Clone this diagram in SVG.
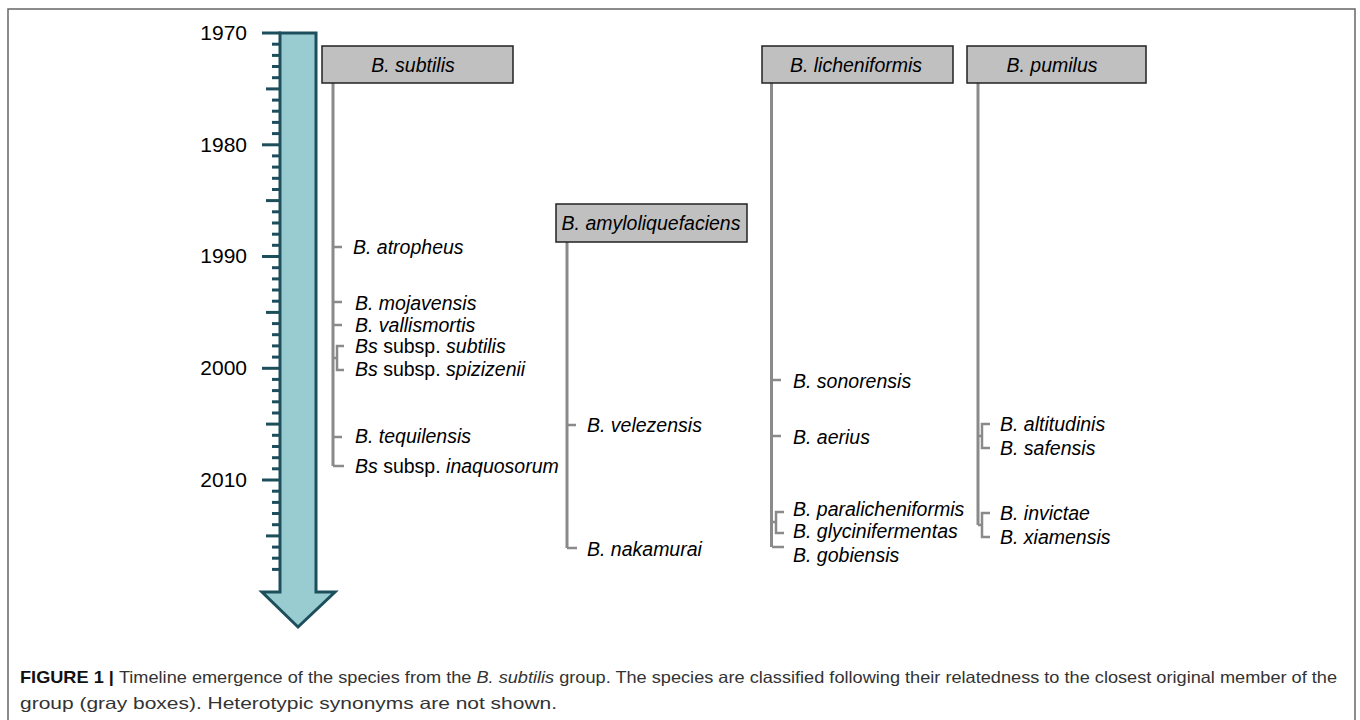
<svg xmlns="http://www.w3.org/2000/svg" width="1360" height="720" viewBox="0 0 1360 720">
<style>
.yr{font-family:"Liberation Sans",Arial,sans-serif;font-size:21px;fill:#000;text-anchor:end}
.sp{font-family:"Liberation Sans",Arial,sans-serif;font-size:19.5px;font-style:italic;fill:#000}
.bx{fill:#c0c0c0;stroke:#222;stroke-width:1.5}
.bt{font-family:"Liberation Sans",Arial,sans-serif;font-size:19.5px;font-style:italic;fill:#000;text-anchor:middle}
.ln{stroke:#8a8a8a;stroke-width:3;fill:none}
.tk{stroke:#8a8a8a;stroke-width:2.5;fill:none}
.ax{stroke:#1d4e5b;stroke-width:3}
.cap{font-family:"Liberation Sans",Arial,sans-serif;font-size:16.5px;fill:#333}
</style>
<rect x="8" y="9" width="1347" height="720" fill="#fff" stroke="#666" stroke-width="1.5"/>

<g id="timeline">
  <g class="ax">
    <line x1="262" y1="33" x2="281" y2="33"/>
    <line x1="272" y1="44.2" x2="281" y2="44.2"/>
    <line x1="272" y1="55.4" x2="281" y2="55.4"/>
    <line x1="272" y1="66.5" x2="281" y2="66.5"/>
    <line x1="272" y1="77.7" x2="281" y2="77.7"/>
    <line x1="266" y1="88.9" x2="281" y2="88.9"/>
    <line x1="272" y1="100.1" x2="281" y2="100.1"/>
    <line x1="272" y1="111.2" x2="281" y2="111.2"/>
    <line x1="272" y1="122.4" x2="281" y2="122.4"/>
    <line x1="272" y1="133.6" x2="281" y2="133.6"/>
    <line x1="262" y1="144.8" x2="281" y2="144.8"/>
    <line x1="272" y1="155.9" x2="281" y2="155.9"/>
    <line x1="272" y1="167.1" x2="281" y2="167.1"/>
    <line x1="272" y1="178.3" x2="281" y2="178.3"/>
    <line x1="272" y1="189.5" x2="281" y2="189.5"/>
    <line x1="266" y1="200.6" x2="281" y2="200.6"/>
    <line x1="272" y1="211.8" x2="281" y2="211.8"/>
    <line x1="272" y1="223" x2="281" y2="223"/>
    <line x1="272" y1="234.2" x2="281" y2="234.2"/>
    <line x1="272" y1="245.3" x2="281" y2="245.3"/>
    <line x1="262" y1="256.5" x2="281" y2="256.5"/>
    <line x1="272" y1="267.7" x2="281" y2="267.7"/>
    <line x1="272" y1="278.9" x2="281" y2="278.9"/>
    <line x1="272" y1="290" x2="281" y2="290"/>
    <line x1="272" y1="301.2" x2="281" y2="301.2"/>
    <line x1="266" y1="312.4" x2="281" y2="312.4"/>
    <line x1="272" y1="323.6" x2="281" y2="323.6"/>
    <line x1="272" y1="334.7" x2="281" y2="334.7"/>
    <line x1="272" y1="345.9" x2="281" y2="345.9"/>
    <line x1="272" y1="357.1" x2="281" y2="357.1"/>
    <line x1="262" y1="368.3" x2="281" y2="368.3"/>
    <line x1="272" y1="379.4" x2="281" y2="379.4"/>
    <line x1="272" y1="390.6" x2="281" y2="390.6"/>
    <line x1="272" y1="401.8" x2="281" y2="401.8"/>
    <line x1="272" y1="413" x2="281" y2="413"/>
    <line x1="266" y1="424.1" x2="281" y2="424.1"/>
    <line x1="272" y1="435.3" x2="281" y2="435.3"/>
    <line x1="272" y1="446.5" x2="281" y2="446.5"/>
    <line x1="272" y1="457.7" x2="281" y2="457.7"/>
    <line x1="272" y1="468.8" x2="281" y2="468.8"/>
    <line x1="262" y1="480" x2="281" y2="480"/>
    <line x1="272" y1="491.2" x2="281" y2="491.2"/>
    <line x1="272" y1="502.4" x2="281" y2="502.4"/>
    <line x1="272" y1="513.5" x2="281" y2="513.5"/>
    <line x1="272" y1="524.7" x2="281" y2="524.7"/>
    <line x1="266" y1="535.9" x2="281" y2="535.9"/>
    <line x1="272" y1="547.1" x2="281" y2="547.1"/>
    <line x1="272" y1="558.2" x2="281" y2="558.2"/>
    <line x1="272" y1="569.4" x2="281" y2="569.4"/>
  </g>
  <polygon points="280,33 316,33 316,592 335,592 298,627 262,592 280,592" fill="#98ccd0" stroke="#1d4e5b" stroke-width="3" stroke-linejoin="miter"/>
  <text class="yr" x="247" y="40">1970</text>
  <text class="yr" x="247" y="152">1980</text>
  <text class="yr" x="247" y="263">1990</text>
  <text class="yr" x="247" y="375">2000</text>
  <text class="yr" x="247" y="487">2010</text>
</g>

<g id="connectors">
  <line class="ln" x1="333" y1="83" x2="333" y2="466"/>
  <path class="tk" d="M333,247H342M333,302H342M333,325H342M333,437H342M333,466H344M333,358H337M344,346H337V370H344"/>
  <line class="ln" x1="567" y1="242" x2="567" y2="548"/>
  <path class="tk" d="M567,425H576M567,548H577"/>
  <line class="ln" x1="771.5" y1="83" x2="771.5" y2="547"/>
  <path class="tk" d="M772,380H781M772,436H781M772,547H784M772,522H776M784,512H776V533H784"/>
  <line class="ln" x1="978" y1="83" x2="978" y2="525"/>
  <path class="tk" d="M978,436H982M990,424H982V448H990M978,525H982M990,513H982V537H990"/>
</g>

<g id="subtilis">
  <rect class="bx" x="322" y="46" width="191" height="37"/>
  <text class="bt" x="413" y="72">B. subtilis</text>
  <text class="sp" x="353" y="254">B. atropheus</text>
  <text class="sp" x="355" y="310">B. mojavensis</text>
  <text class="sp" x="355" y="332">B. vallismortis</text>
  <text class="sp" x="355" y="353">Bs<tspan font-style="normal"> subsp. </tspan>subtilis</text>
  <text class="sp" x="355" y="376">Bs<tspan font-style="normal"> subsp. </tspan>spizizenii</text>
  <text class="sp" x="355" y="443">B. tequilensis</text>
  <text class="sp" x="355" y="473">Bs<tspan font-style="normal"> subsp. </tspan>inaquosorum</text>
</g>

<g id="amyloliquefaciens">
  <rect class="bx" x="556" y="204" width="191" height="38"/>
  <text class="bt" x="651" y="230">B. amyloliquefaciens</text>
  <text class="sp" x="587" y="432">B. velezensis</text>
  <text class="sp" x="587" y="556">B. nakamurai</text>
</g>

<g id="licheniformis">
  <rect class="bx" x="762" y="46" width="191" height="37"/>
  <text class="bt" x="856" y="72">B. licheniformis</text>
  <text class="sp" x="793" y="388">B. sonorensis</text>
  <text class="sp" x="793" y="444">B. aerius</text>
  <text class="sp" x="793" y="516">B. paralicheniformis</text>
  <text class="sp" x="793" y="538">B. glycinifermentas</text>
  <text class="sp" x="793" y="562">B. gobiensis</text>
</g>

<g id="pumilus">
  <rect class="bx" x="967" y="46" width="179" height="37"/>
  <text class="bt" x="1052" y="72">B. pumilus</text>
  <text class="sp" x="1000" y="431">B. altitudinis</text>
  <text class="sp" x="1000" y="455">B. safensis</text>
  <text class="sp" x="1000" y="520">B. invictae</text>
  <text class="sp" x="1000" y="544">B. xiamensis</text>
</g>

<g id="caption">
  <text class="cap" x="20" y="683" textLength="1317" lengthAdjust="spacingAndGlyphs"><tspan font-weight="bold" fill="#111">FIGURE 1 | </tspan>Timeline emergence of the species from the <tspan font-style="italic">B. subtilis</tspan> group. The species are classified following their relatedness to the closest original member of the</text>
  <text class="cap" x="20" y="709" textLength="537" lengthAdjust="spacingAndGlyphs">group (gray boxes). Heterotypic synonyms are not shown.</text>
</g>
</svg>
